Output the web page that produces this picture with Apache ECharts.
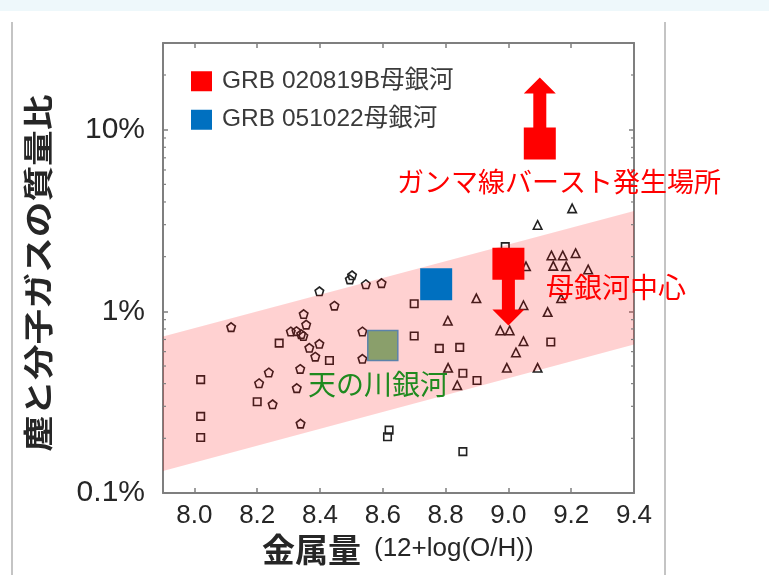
<!DOCTYPE html>
<html><head><meta charset="utf-8">
<script src="https://cdn.jsdelivr.net/npm/echarts@6/dist/echarts.min.js"></script>
<style>html,body{margin:0;padding:0;background:#fff}#c{width:769px;height:575px}</style>
</head><body><div id="c"></div>
<script>
// ---- data ----
const xMin = 7.9, xMax = 9.4;
const yMin = 0.1, yMax = 30;
const yTickValues = [0.1, 1, 10];
const yTickLabels = ['0.1%', '1%', '10%'];
const yMinorTicks = [0.2,0.3,0.4,0.5,0.6,0.7,0.8,0.9,2,3,4,5,6,7,8,9,20];

const squaresX = [8.02,8.02,8.02,8.27,8.20,8.43,8.70,8.70,8.78,8.845,8.855,8.90,9.135,8.62,8.615,8.855,8.99];
const squaresY = [0.421,0.264,0.202,0.668,0.318,0.536,1.10,0.732,0.625,0.633,0.456,0.416,0.678,0.222,0.204,0.169,2.27];

const pentagonsX = [8.117,8.398,8.502,8.495,8.546,8.596,8.446,8.348,8.356,8.307,8.325,8.34,8.347,8.366,8.398,8.385,8.237,8.206,8.249,8.337,8.326,8.338,8.535,8.535];
const pentagonsY = [0.819,1.29,1.58,1.50,1.41,1.43,1.075,0.966,0.845,0.775,0.778,0.749,0.732,0.630,0.663,0.563,0.461,0.402,0.308,0.482,0.378,0.241,0.775,0.548];

const trianglesX = [9.203,9.093,9.137,9.173,9.214,9.143,9.184,9.254,9.056,9.168,8.898,9.048,9.125,8.807,8.974,9.004,9.048,9.024,8.995,9.093,8.808,8.837];
const trianglesY = [3.69,2.99,2.03,2.03,2.09,1.78,1.77,1.70,1.77,1.18,1.18,1.08,0.991,0.888,0.785,0.785,0.685,0.594,0.489,0.489,0.489,0.392];

// GRB 020819B host: burst site (lower limit) and host centre (upper limit)
const grbAName = 'GRB 020819B母銀河';
const grbAX = [9.1, 9.0];
const grbAY = [8.4, 1.83];
const grbATip = [19.4, 0.837];

const grbBName = 'GRB 051022母銀河';
const grbBX = [8.77];
const grbBY = [1.41];

const mwX = [8.6];
const mwY = [0.649];

const bandX = [7.9, 9.4];
const bandUpper = [0.727, 3.57];
const bandLower = [0.132, 0.657];

// ---- chart ----
const chart = echarts.init(document.getElementById('c'));
const latin = '"Liberation Sans", "Noto Sans CJK JP", sans-serif';
const cjk = '"Noto Sans CJK JP", sans-serif';
const frame = '#7f7f7f';
const zip = (xs, ys) => xs.map((x, i) => [x, ys[i]]);
const pentagon = 'path://M0,-1L0.951,-0.309L0.588,0.809L-0.588,0.809L-0.951,-0.309Z';
const hollow = {color: 'rgba(0,0,0,0)', borderColor: '#222', borderWidth: 1.6, opacity: 1};

function yLabel(v) {
  for (let i = 0; i < yTickValues.length; i++) {
    if (Math.abs(Math.log10(v) - Math.log10(yTickValues[i])) < 1e-6) return yTickLabels[i];
  }
  return '';
}

const xAxisBase = {
  type: 'value', min: xMin, max: xMax, splitNumber: 7,
  axisLine: {show: true, onZero: false, lineStyle: {color: frame, width: 2}},
  axisTick: {show: true, inside: true, length: 5, lineStyle: {color: frame, width: 1.5}},
  splitLine: {show: false}
};
const yAxisBase = {
  type: 'log', logBase: 10, min: yMin, max: yMax,
  axisLine: {show: true, onZero: false, lineStyle: {color: frame, width: 2}},
  axisTick: {show: true, inside: true, length: 5, lineStyle: {color: frame, width: 1.5}},
  splitLine: {show: false}, minorTick: {show: false}
};

chart.setOption({
  animation: false,
  backgroundColor: '#ffffff',
  grid: {left: 163, top: 43, width: 471, height: 450},
  legend: {
    data: [{name: grbAName, icon: 'rect'}, {name: grbBName, icon: 'rect'}],
    orient: 'vertical', left: 191, top: 69, padding: 0,
    itemWidth: 21, itemHeight: 20, itemGap: 14,
    itemStyle: {opacity: 1},
    textStyle: {fontSize: 24.5, color: '#3a3a3a', fontFamily: latin, lineHeight: 20, padding: [0, 0, 0, 5]}
  },
  xAxis: [
    Object.assign({}, xAxisBase, {
      position: 'bottom',
      axisLabel: {
        margin: 10, fontSize: 26, color: '#262626', fontFamily: latin,
        showMinLabel: false,
        formatter: v => (Math.abs(v - xMin) < 1e-6 ? '' : v.toFixed(1))
      }
    }),
    Object.assign({}, xAxisBase, {position: 'top', axisLabel: {show: false}})
  ],
  yAxis: [
    Object.assign({}, yAxisBase, {
      position: 'left',
      axisLabel: {margin: 18, fontSize: 30, color: '#262626', fontFamily: latin, formatter: yLabel}
    }),
    Object.assign({}, yAxisBase, {position: 'right', axisLabel: {show: false}})
  ],
  series: [
    {type: 'scatter', name: 'sq', data: zip(squaresX, squaresY), symbol: 'rect', symbolSize: 7.5, itemStyle: hollow, z: 2, silent: true},
    {type: 'scatter', name: 'pe', data: zip(pentagonsX, pentagonsY), symbol: pentagon, symbolSize: 8.5, itemStyle: hollow, z: 2, silent: true},
    {type: 'scatter', name: 'tr', data: zip(trianglesX, trianglesY), symbol: 'triangle', symbolSize: 8.5, itemStyle: hollow, z: 2, silent: true},
    {
      type: 'custom', name: 'band', z: 3, silent: true,
      data: bandX.map((x, i) => [x, bandUpper[i], bandLower[i]]),
      encode: {x: 0, y: [1, 2]},
      renderItem: function (params, api) {
        if (params.dataIndex !== 0) return null;
        const up = bandX.map((x, i) => api.coord([x, bandUpper[i]]));
        const lo = bandX.map((x, i) => api.coord([x, bandLower[i]])).reverse();
        return {type: 'polygon', shape: {points: up.concat(lo)}, style: {fill: 'rgba(255,0,0,0.18)'}};
      }
    },
    {
      type: 'custom', name: 'minor', z: 3, silent: true,
      data: yMinorTicks.map(v => [xMin, v]),
      renderItem: function (params, api) {
        const v = api.value(1);
        const l = api.coord([xMin, v]);
        const r = api.coord([xMax, v]);
        const st = {stroke: frame, lineWidth: 1.2};
        return {type: 'group', children: [
          {type: 'line', shape: {x1: l[0], y1: l[1], x2: l[0] + 3, y2: l[1]}, style: st},
          {type: 'line', shape: {x1: r[0] - 3, y1: r[1], x2: r[0], y2: r[1]}, style: st}
        ]};
      }
    },
    {
      type: 'custom', name: 'arrows', z: 4, silent: true,
      data: grbAX.map((x, i) => [x, grbAY[i], grbATip[i]]),
      encode: {x: 0, y: [1, 2]},
      renderItem: function (params, api) {
        const p0 = api.coord([api.value(0), api.value(1)]);
        const p1 = api.coord([api.value(0), api.value(2)]);
        const dir = p1[1] < p0[1] ? -1 : 1;
        const hl = 16, hw = 16, sw = 6.5;
        const by = p1[1] - dir * hl;
        const cx = p0[0];
        return {type: 'polygon', shape: {points: [
          [cx - sw, p0[1]], [cx - sw, by], [cx - hw, by], [cx, p1[1]], [cx + hw, by], [cx + sw, by], [cx + sw, p0[1]]
        ]}, style: {fill: '#ff0000'}};
      }
    },
    {type: 'scatter', name: grbAName, data: zip(grbAX, grbAY), symbol: 'rect', symbolSize: 32, itemStyle: {color: '#ff0000', opacity: 1}, z: 5, silent: true},
    {type: 'scatter', name: grbBName, data: zip(grbBX, grbBY), symbol: 'rect', symbolSize: 32, itemStyle: {color: '#0070c0', opacity: 1}, z: 5, silent: true},
    {type: 'scatter', name: 'mw', data: zip(mwX, mwY), symbol: 'rect', symbolSize: 30, itemStyle: {color: '#8a9f6b', borderColor: '#5b82ab', borderWidth: 1.5, opacity: 1}, z: 5, silent: true}
  ],
  graphic: [
    {type: 'rect', left: 0, top: 0, shape: {width: 769, height: 11}, style: {fill: '#eef8fb'}, z: -10},
    {type: 'line', shape: {x1: 12, y1: 22, x2: 12, y2: 575}, style: {stroke: '#c4c4c4', lineWidth: 2}, z: -10},
    {type: 'line', shape: {x1: 665, y1: 22, x2: 665, y2: 575}, style: {stroke: '#c4c4c4', lineWidth: 2}, z: -10},
    {type: 'text', x: 38, y: 273, rotation: Math.PI / 2, scaleX: 1.19,
     style: {text: '塵と分子ガスの質量比', font: 'bold 30px ' + cjk, fill: '#262626', textAlign: 'center', textVerticalAlign: 'middle'}, z: 10},
    {type: 'text', x: 262, y: 549,
     style: {text: '{a|金属量}{b|(12+log(O/H))}', textVerticalAlign: 'middle',
       rich: {a: {fontSize: 33, fontWeight: 'bold', fontFamily: cjk, fill: '#262626', padding: [0, 13, 0, 0]},
              b: {fontSize: 26, fontFamily: latin, fill: '#262626'}}}, z: 10},
    {type: 'text', x: 397, y: 182, style: {text: 'ガンマ線バースト発生場所', font: '27px ' + cjk, fill: '#ff0000', textVerticalAlign: 'middle'}, z: 10},
    {type: 'text', x: 546, y: 287, style: {text: '母銀河中心', font: '28px ' + cjk, fill: '#ff0000', textVerticalAlign: 'middle'}, z: 10},
    {type: 'text', x: 308, y: 384, style: {text: '天の川銀河', font: '28px ' + cjk, fill: '#1f8a1f', textVerticalAlign: 'middle'}, z: 10}
  ]
});
</script>
</body></html>
